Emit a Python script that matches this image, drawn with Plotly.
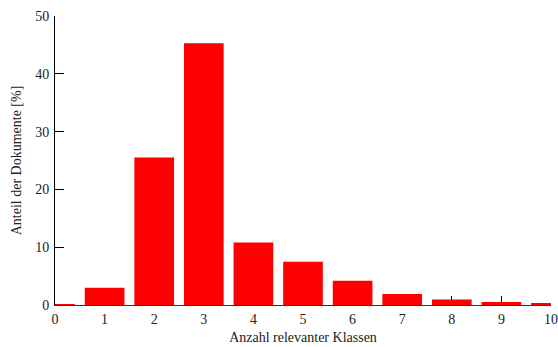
import plotly.graph_objects as go

klassen = [0, 1, 2, 3, 4, 5, 6, 7, 8, 9, 10]
anteil = [0.1, 3.0, 25.5, 45.3, 10.8, 7.5, 4.2, 1.9, 0.95, 0.5, 0.3]

fam = "Liberation Serif, Times New Roman, serif"
tickfont = dict(family=fam, size=14, color="#222")
titlefont = dict(family=fam, size=14, color="#222")

fig = go.Figure(go.Bar(x=klassen, y=anteil, width=0.8, marker=dict(color="#ff0000", line=dict(width=0))))

fig.update_layout(
    width=558, height=347,
    margin=dict(l=55, r=7, t=16, b=42),
    plot_bgcolor="white", paper_bgcolor="white",
    font=dict(family=fam, size=14, color="#222"), showlegend=False,
    xaxis=dict(range=[0, 10], tickvals=list(range(0, 11)), ticks="inside", ticklen=9,
               tickcolor="black", showline=True, linecolor="#333", linewidth=1,
               showgrid=False, zeroline=False, ticklabeloverflow="allow",
               ticklabelstandoff=1, layer="below traces", automargin=False,
               title=dict(text="Anzahl relevanter Klassen", standoff=6, font=titlefont),
               tickfont=tickfont),
    yaxis=dict(range=[0, 50], tickvals=[0, 10, 20, 30, 40, 50], ticks="inside", ticklen=9,
               tickcolor="black", showline=True, linecolor="black", linewidth=1,
               showgrid=False, zeroline=False, ticklabelstandoff=2, automargin=False,
               title=dict(text="Anteil der Dokumente [%]", standoff=10, font=titlefont),
               tickfont=tickfont),
)
fig.write_html("out.html")
